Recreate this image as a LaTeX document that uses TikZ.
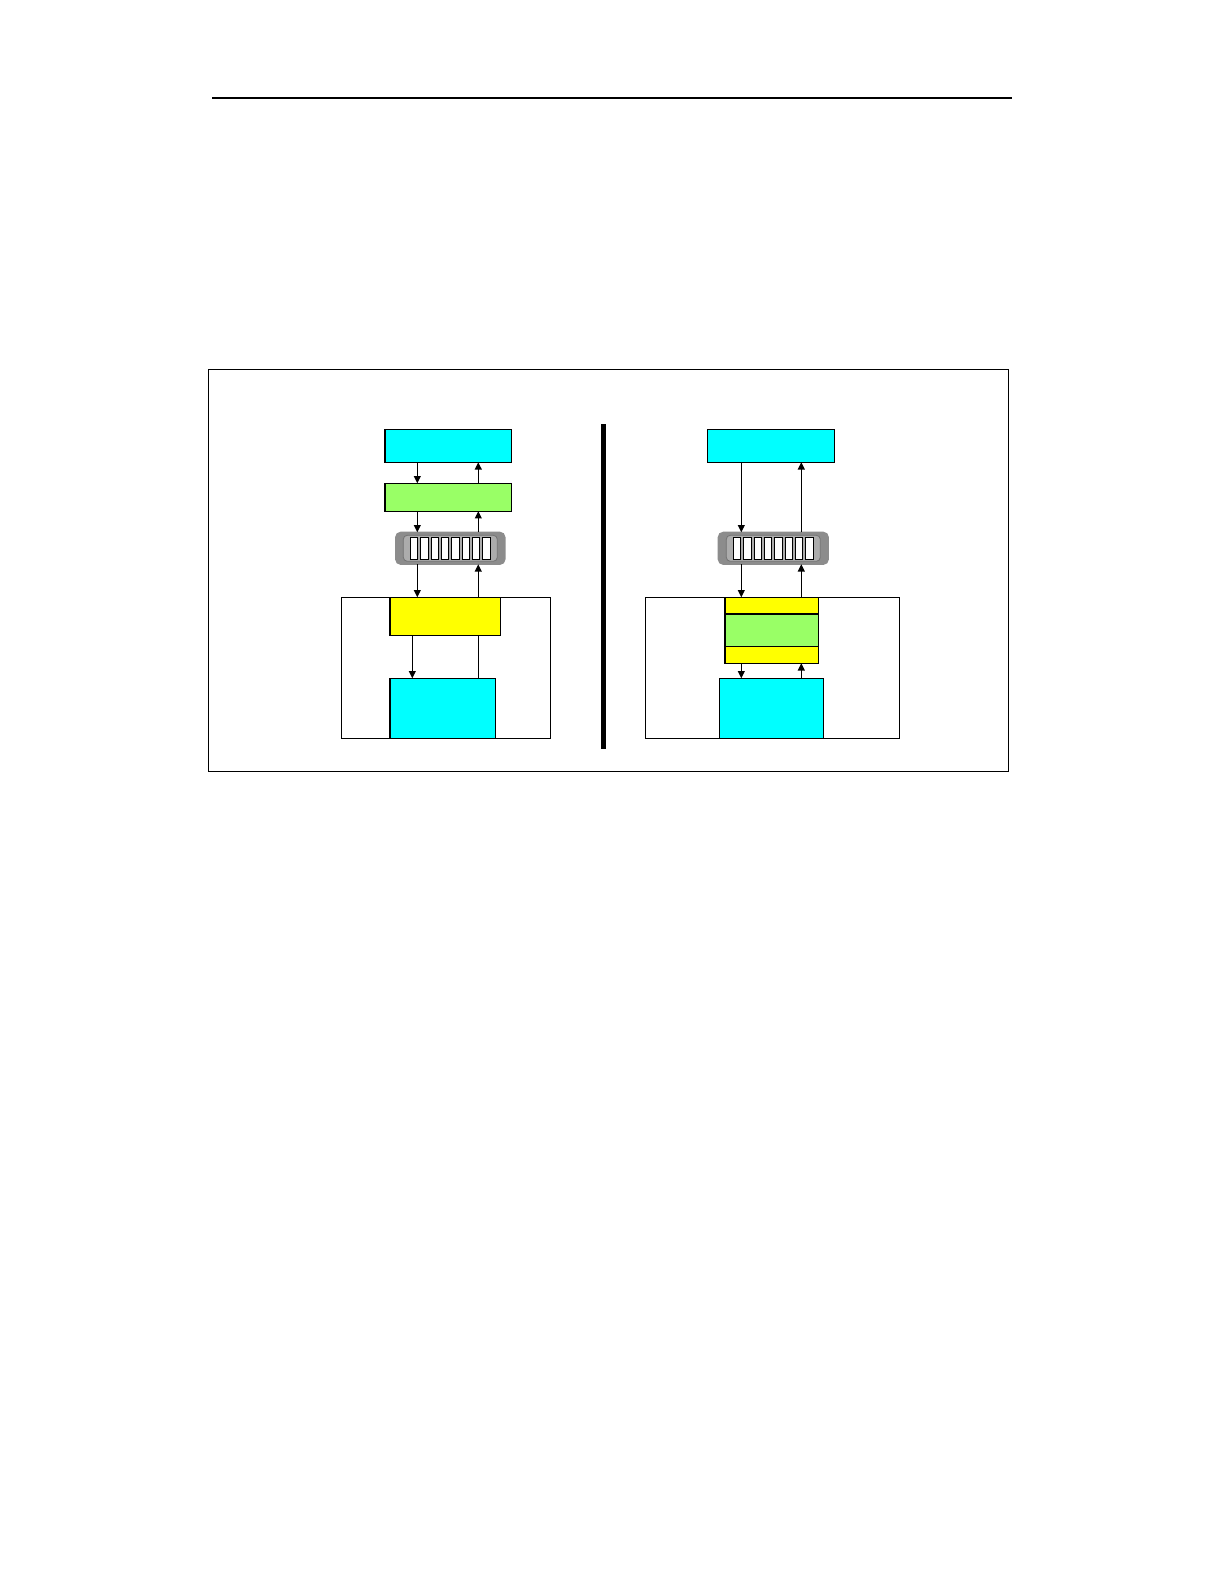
\documentclass[tikz,border=0pt]{standalone}
\usetikzlibrary{arrows.meta}
\definecolor{appcyan}{RGB}{0,255,255}
\definecolor{midgreen}{RGB}{153,255,102}
\definecolor{drvyellow}{RGB}{255,255,0}
\definecolor{bufgray}{RGB}{140,140,140}
\definecolor{bufinner}{RGB}{172,172,172}
\begin{document}
\begin{tikzpicture}
        [x=0.5pt,y=-0.5pt,line width=0.6pt,
         every node/.style={draw,rectangle,inner sep=0pt,outer sep=0pt},
         cyanbox/.style={fill=appcyan},
         greenbox/.style={fill=midgreen},
         yellowbox/.style={fill=drvyellow},
         bufbox/.style={draw=bufgray,fill=bufgray,rounded corners=2.5pt,minimum width=#1,minimum height=16pt},
         bufwell/.style={draw=black!55,line width=0.4pt,fill=bufinner,rounded corners=2pt,minimum width=47pt,minimum height=13pt},
         slot/.style={fill=white,line width=0.5pt,minimum width=3.7pt,minimum height=11pt},
         arr/.style={-{Triangle[length=3.6pt,width=3.4pt]}}]
        \useasboundingbox (0,0) rectangle (1224,1584);
        % page rule and frame
        \draw (212,98) -- (1012,98);
        \draw[line width=0.45pt] (208,369) rectangle (1008,771);
        \draw[line width=2.5pt] (603.5,424) -- (603.5,749);
        % left side
        \node (box1) at (446.2,667.8) [minimum width=104.5pt,minimum height=70.5pt] {};
        \node (app1) at (448.3,445.8) [cyanbox,minimum width=63.4pt,minimum height=16.5pt] {};
        \node (mid1) at (448.3,497.2) [greenbox,minimum width=63.4pt,minimum height=13.9pt] {};
        \node (buf1) at (450.3,548.3) [bufbox=54.6pt] {};
        \node (yel1) at (445.4,616.3) [yellowbox,minimum width=55.4pt,minimum height=19pt] {};
        \node (dev1) at (442.9,708.3) [cyanbox,minimum width=52.9pt,minimum height=30pt] {};
        % right side
        \node (box2) at (772.5,667.8) [minimum width=126.8pt,minimum height=70.5pt] {};
        \node (app2) at (770.8,445.8) [cyanbox,minimum width=63.5pt,minimum height=16.5pt] {};
        \node (buf2) at (773.3,548.3) [bufbox=55pt] {};
        \node (yel2a) at (771.7,605.7) [yellowbox,minimum width=46.7pt,minimum height=8.35pt] {};
        \node (grn2) at (771.7,630.4) [greenbox,minimum width=46.7pt,minimum height=16.35pt] {};
        \node (yel2b) at (771.7,655) [yellowbox,minimum width=46.7pt,minimum height=8.3pt] {};
        \node (dev2) at (771.3,708.3) [cyanbox,minimum width=52pt,minimum height=30pt] {};
        % buffer slots
        \foreach \b in {buf1,buf2} {
          \node (\b w) at (\b) [bufwell] {};
          \foreach \i in {0,...,7}
            \node (\b s\i) at ([xshift={(\i-3.5)*5.17pt}]\b.center) [slot] {};
        }
        % arrow lanes
        \coordinate (ld) at (417.3,0);
        \coordinate (lu) at (478.3,0);
        \coordinate (li) at (412.3,0);
        \coordinate (rd) at (741.3,0);
        \coordinate (ru) at (801.3,0);
        \foreach \from/\to in {app1/mid1,mid1/buf1,buf1/yel1}
          \draw[arr] (\from.south -| ld) -- (\to.north -| ld);
        \foreach \from/\to in {mid1/app1,buf1/mid1,yel1/buf1}
          \draw[arr] (\from.north -| lu) -- (\to.south -| lu);
        \draw[arr] (yel1.south -| li) -- (dev1.north -| li);
        \draw (dev1.north -| lu) -- (yel1.south -| lu);
        \foreach \from/\to in {app2/buf2,buf2/yel2a,yel2b/dev2}
          \draw[arr] (\from.south -| rd) -- (\to.north -| rd);
        \foreach \from/\to in {buf2/app2,yel2a/buf2,dev2/yel2b}
          \draw[arr] (\from.north -| ru) -- (\to.south -| ru);
      \end{tikzpicture}
\end{document}
